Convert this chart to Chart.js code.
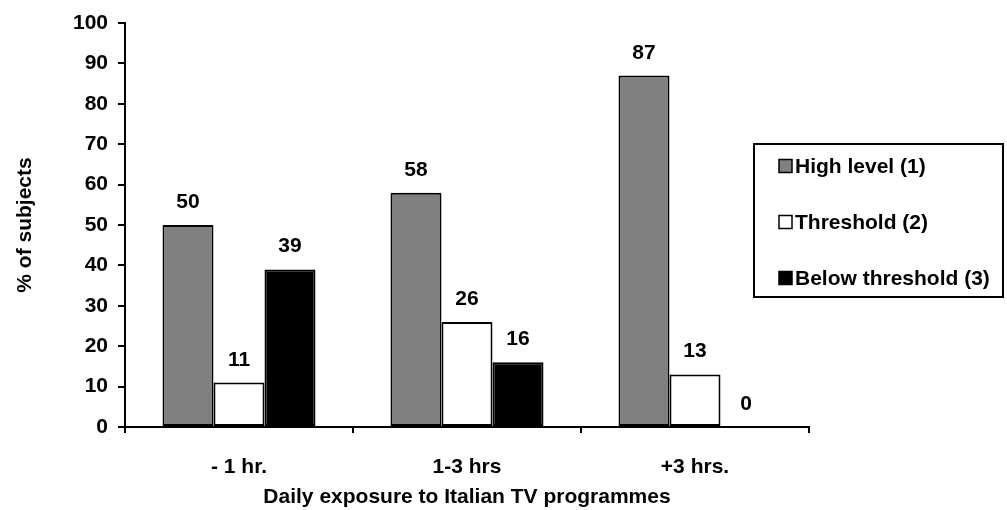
<!DOCTYPE html>
<html>
<head>
<meta charset="utf-8">
<script src="https://cdn.jsdelivr.net/npm/chart.js@4/dist/chart.umd.min.js"></script>
<style>
  html, body { margin: 0; padding: 0; background: #ffffff; }
  #wrap { width: 1007px; height: 510px; }
</style>
</head>
<body>
<div id="wrap"><canvas id="c" width="1007" height="510"></canvas></div>
<script>
// Share of subjects per exposure group
const categories = ['- 1 hr.', '1-3 hrs', '+3 hrs.'];
const highLevel = [50, 58, 87];
const threshold = [11, 26, 13];
const belowThreshold = [39, 16, 0];
const seriesNames = ['High level (1)', 'Threshold (2)', 'Below threshold (3)'];
const yTickValues = [0, 10, 20, 30, 40, 50, 60, 70, 80, 90, 100];

const FONT = { family: '"Liberation Sans", Arial, sans-serif', size: 21, weight: 'bold' };
const fontStr = 'bold 21px "Liberation Sans", Arial, sans-serif';

// Value labels above each bar
const valueLabels = {
  id: 'valueLabels',
  afterDatasetsDraw(chart) {
    const ctx = chart.ctx;
    ctx.save();
    ctx.font = fontStr;
    ctx.fillStyle = '#000';
    ctx.textAlign = 'center';
    ctx.textBaseline = 'alphabetic';
    chart.data.datasets.forEach((ds, di) => {
      const meta = chart.getDatasetMeta(di);
      meta.data.forEach((bar, i) => {
        ctx.fillText(String(ds.data[i]), bar.x, bar.y - 17);
      });
    });
    ctx.restore();
  }
};

// Boxed legend at the right
const boxLegend = {
  id: 'boxLegend',
  afterDraw(chart, args, opts) {
    const ctx = chart.ctx;
    ctx.save();
    ctx.lineWidth = 2;
    ctx.strokeStyle = '#000';
    ctx.strokeRect(opts.x, opts.y, opts.w, opts.h);
    ctx.font = fontStr;
    ctx.textBaseline = 'middle';
    ctx.textAlign = 'left';
    chart.data.datasets.forEach((ds, i) => {
      const cy = opts.y + opts.firstRow + i * opts.rowGap;
      ctx.fillStyle = ds.backgroundColor;
      ctx.fillRect(opts.markerX, cy - 6.5, 13, 13);
      ctx.lineWidth = 1.5;
      ctx.strokeRect(opts.markerX, cy - 6.5, 13, 13);
      ctx.fillStyle = '#000';
      ctx.fillText(ds.label, opts.markerX + 16, cy + 1);
    });
    ctx.restore();
  }
};

const barStyle = { borderColor: '#000', borderWidth: 2, borderSkipped: false,
                   categoryPercentage: 0.671, barPercentage: 1.0 };

new Chart(document.getElementById('c'), {
  type: 'bar',
  data: {
    labels: categories,
    datasets: [
      Object.assign({ label: seriesNames[0], data: highLevel, backgroundColor: '#808080' }, barStyle),
      Object.assign({ label: seriesNames[1], data: threshold, backgroundColor: '#ffffff' }, barStyle),
      Object.assign({ label: seriesNames[2], data: belowThreshold, backgroundColor: '#000000' }, barStyle)
    ]
  },
  options: {
    responsive: false,
    animation: false,
    layout: { padding: { top: 23, right: 198, bottom: 0, left: 0 } },
    plugins: {
      legend: { display: false },
      tooltip: { enabled: false },
      boxLegend: { x: 754, y: 144, w: 249, h: 153, markerX: 779, firstRow: 22, rowGap: 56 }
    },
    scales: {
      x: {
        offset: true,
        grid: { offset: true, drawOnChartArea: false, drawTicks: true, tickLength: 6,
                color: '#000', lineWidth: 2 },
        border: { color: '#000', width: 2 },
        ticks: { color: '#000', font: FONT, padding: 22, maxRotation: 0 },
        title: { display: true, text: 'Daily exposure to Italian TV programmes',
                 color: '#000', font: FONT, padding: { top: 0, bottom: 0 } },
        afterFit(scale) { scale.height = 83; }
      },
      y: {
        min: 0, max: 100,
        afterBuildTicks(scale) { scale.ticks = yTickValues.map(v => ({ value: v })); },
        grid: { drawOnChartArea: false, drawTicks: true, tickLength: 7,
                color: '#000', lineWidth: 2 },
        border: { color: '#000', width: 2 },
        ticks: { color: '#000', font: FONT, padding: 10 },
        title: { display: true, text: '% of subjects', color: '#000', font: FONT,
                 padding: { top: 13, bottom: 0 } },
        afterFit(scale) { scale.width = 125; }
      }
    }
  },
  plugins: [valueLabels, boxLegend]
});
</script>
</body>
</html>
